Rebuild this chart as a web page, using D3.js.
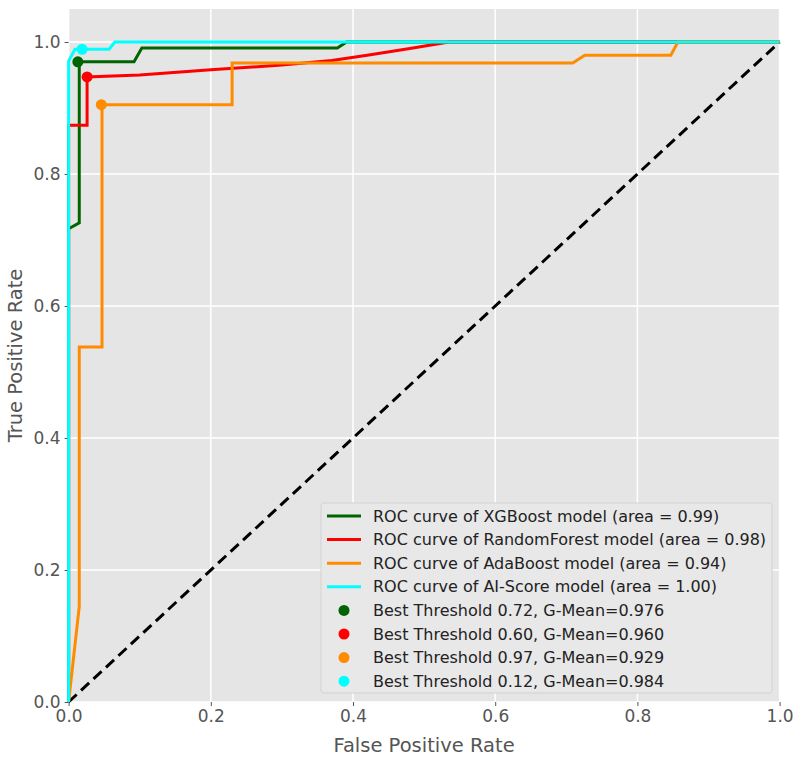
<!DOCTYPE html>
<html>
<head>
<meta charset="utf-8">
<script src="https://cdn.jsdelivr.net/npm/d3@7"></script>
<style>
  body { margin: 0; background: #fff; }
  text { font-family: "DejaVu Sans", sans-serif; }
</style>
</head>
<body>
<svg id="chart" width="799" height="759"></svg>
<script>
// ROC curves (fpr, tpr)
var xgbFpr = [0, 0, 0.015, 0.015, 0.092, 0.103, 0.378, 0.391, 1];
var xgbTpr = [0, 0.717, 0.726, 0.970, 0.970, 0.991, 0.991, 1, 1];

var rfFpr = [0, 0, 0.026, 0.026, 0.10, 0.20, 0.30, 0.37, 0.42, 0.48, 0.535, 1];
var rfTpr = [0, 0.874, 0.874, 0.947, 0.950, 0.958, 0.965, 0.972, 0.980, 0.990, 1, 1];

var adaFpr = [0, 0.015, 0.015, 0.047, 0.047, 0.230, 0.230, 0.709, 0.726, 0.847, 0.857, 1];
var adaTpr = [0, 0.145, 0.538, 0.538, 0.905, 0.905, 0.968, 0.968, 0.980, 0.980, 1, 1];

var aiFpr = [0, 0, 0.009, 0.057, 0.065, 1];
var aiTpr = [0, 0.971, 0.989, 0.989, 1, 1];

// best threshold points
var bestFpr = [0.013, 0.026, 0.046, 0.019];
var bestTpr = [0.970, 0.947, 0.905, 0.989];

var modelNames = ["XGBoost", "RandomForest", "AdaBoost", "AI-Score"];
var modelAreas = ["0.99", "0.98", "0.94", "1.00"];
var thresholds = ["0.72", "0.60", "0.97", "0.12"];
var gMeans = ["0.976", "0.960", "0.929", "0.984"];
var colors = ["#006400", "#ff0000", "#ff8c00", "#00ffff"];

var tickValues = [0, 0.2, 0.4, 0.6, 0.8, 1.0];

var svg = d3.select("#chart");

var x = d3.scaleLinear().domain([0, 1]).range([68.6, 779.6]);
var y = d3.scaleLinear().domain([0, 1.05]).range([702, 9]);

// background
svg.append("rect")
    .attr("x", x(0)).attr("y", y(1.05))
    .attr("width", x(1) - x(0)).attr("height", y(0) - y(1.05))
    .attr("fill", "#e5e5e5");

// grid
svg.append("g").selectAll("line")
    .data(tickValues).enter().append("line")
    .attr("x1", d => x(d)).attr("x2", d => x(d))
    .attr("y1", y(0)).attr("y2", y(1.05))
    .attr("stroke", "#fff").attr("stroke-width", 1.5);
svg.append("g").selectAll("line")
    .data(tickValues).enter().append("line")
    .attr("y1", d => y(d)).attr("y2", d => y(d))
    .attr("x1", x(0)).attr("x2", x(1))
    .attr("stroke", "#fff").attr("stroke-width", 1.5);

// axes
var xAxis = svg.append("g")
    .attr("transform", "translate(0," + y(0) + ")")
    .call(d3.axisBottom(x).tickValues(tickValues).tickFormat(d3.format(".1f")).tickSize(4).tickPadding(4));
var yAxis = svg.append("g")
    .attr("transform", "translate(" + x(0) + ",0)")
    .call(d3.axisLeft(y).tickValues(tickValues).tickFormat(d3.format(".1f")).tickSize(4).tickPadding(4));
[xAxis, yAxis].forEach(function(a) {
    a.select(".domain").remove();
    a.selectAll(".tick line").attr("stroke", "#555");
    a.selectAll(".tick text").attr("fill", "#555").style("font-size", "17px");
});

// diagonal
svg.append("line")
    .attr("x1", x(0)).attr("y1", y(0)).attr("x2", x(1)).attr("y2", y(1))
    .attr("stroke", "#000").attr("stroke-width", 3).attr("stroke-dasharray", "11,6");

var curves = [
    d3.zip(xgbFpr, xgbTpr),
    d3.zip(rfFpr, rfTpr),
    d3.zip(adaFpr, adaTpr),
    d3.zip(aiFpr, aiTpr)
];

var line = d3.line().x(d => x(d[0])).y(d => y(d[1]));

svg.append("clipPath").attr("id", "clip")
    .append("rect")
    .attr("x", x(0) - 2).attr("y", y(1.05))
    .attr("width", x(1) - x(0) + 4).attr("height", y(0) - y(1.05) + 2);

var plot = svg.append("g").attr("clip-path", "url(#clip)");

plot.selectAll(".roc")
    .data(curves).enter().append("path")
    .attr("class", "roc")
    .attr("d", line)
    .attr("fill", "none")
    .attr("stroke", (d, i) => colors[i])
    .attr("stroke-width", 3);

plot.selectAll(".best")
    .data(bestFpr).enter().append("circle")
    .attr("class", "best")
    .attr("cx", d => x(d))
    .attr("cy", (d, i) => y(bestTpr[i]))
    .attr("r", 5.5)
    .attr("fill", (d, i) => colors[i]);

// axis labels
svg.append("text")
    .attr("x", (x(0) + x(1)) / 2).attr("y", 752)
    .attr("text-anchor", "middle")
    .attr("fill", "#555")
    .style("font-size", "19.5px")
    .text("False Positive Rate");
svg.append("text")
    .attr("transform", "translate(22," + (y(0) + y(1.05)) / 2 + ") rotate(-90)")
    .attr("text-anchor", "middle")
    .attr("fill", "#555")
    .style("font-size", "19.5px")
    .text("True Positive Rate");

// legend
var legend = svg.append("g").attr("transform", "translate(321,503)");
legend.append("rect")
    .attr("width", 451).attr("height", 190)
    .attr("rx", 3)
    .attr("fill", "#e8e8e8")
    .attr("stroke", "#d2d2d2")
    .attr("stroke-width", 1);

var lineLabels = modelNames.map((m, i) => "ROC curve of " + m + " model (area = " + modelAreas[i] + ")");
var dotLabels = thresholds.map((t, i) => "Best Threshold " + t + ", G-Mean=" + gMeans[i]);

var rowY = d3.range(8).map(i => 13 + i * 23.6);

lineLabels.forEach(function(lbl, i) {
    legend.append("line")
        .attr("x1", 6).attr("x2", 40)
        .attr("y1", rowY[i]).attr("y2", rowY[i])
        .attr("stroke", colors[i]).attr("stroke-width", 3);
    legend.append("text")
        .attr("x", 52).attr("y", rowY[i]).attr("dy", "0.35em")
        .attr("fill", "#222")
        .style("font-size", "16px")
        .text(lbl);
});
dotLabels.forEach(function(lbl, i) {
    legend.append("circle")
        .attr("cx", 23).attr("cy", rowY[i + 4])
        .attr("r", 5.5)
        .attr("fill", colors[i]);
    legend.append("text")
        .attr("x", 52).attr("y", rowY[i + 4]).attr("dy", "0.35em")
        .attr("fill", "#222")
        .style("font-size", "16px")
        .text(lbl);
});
</script>
</body>
</html>
